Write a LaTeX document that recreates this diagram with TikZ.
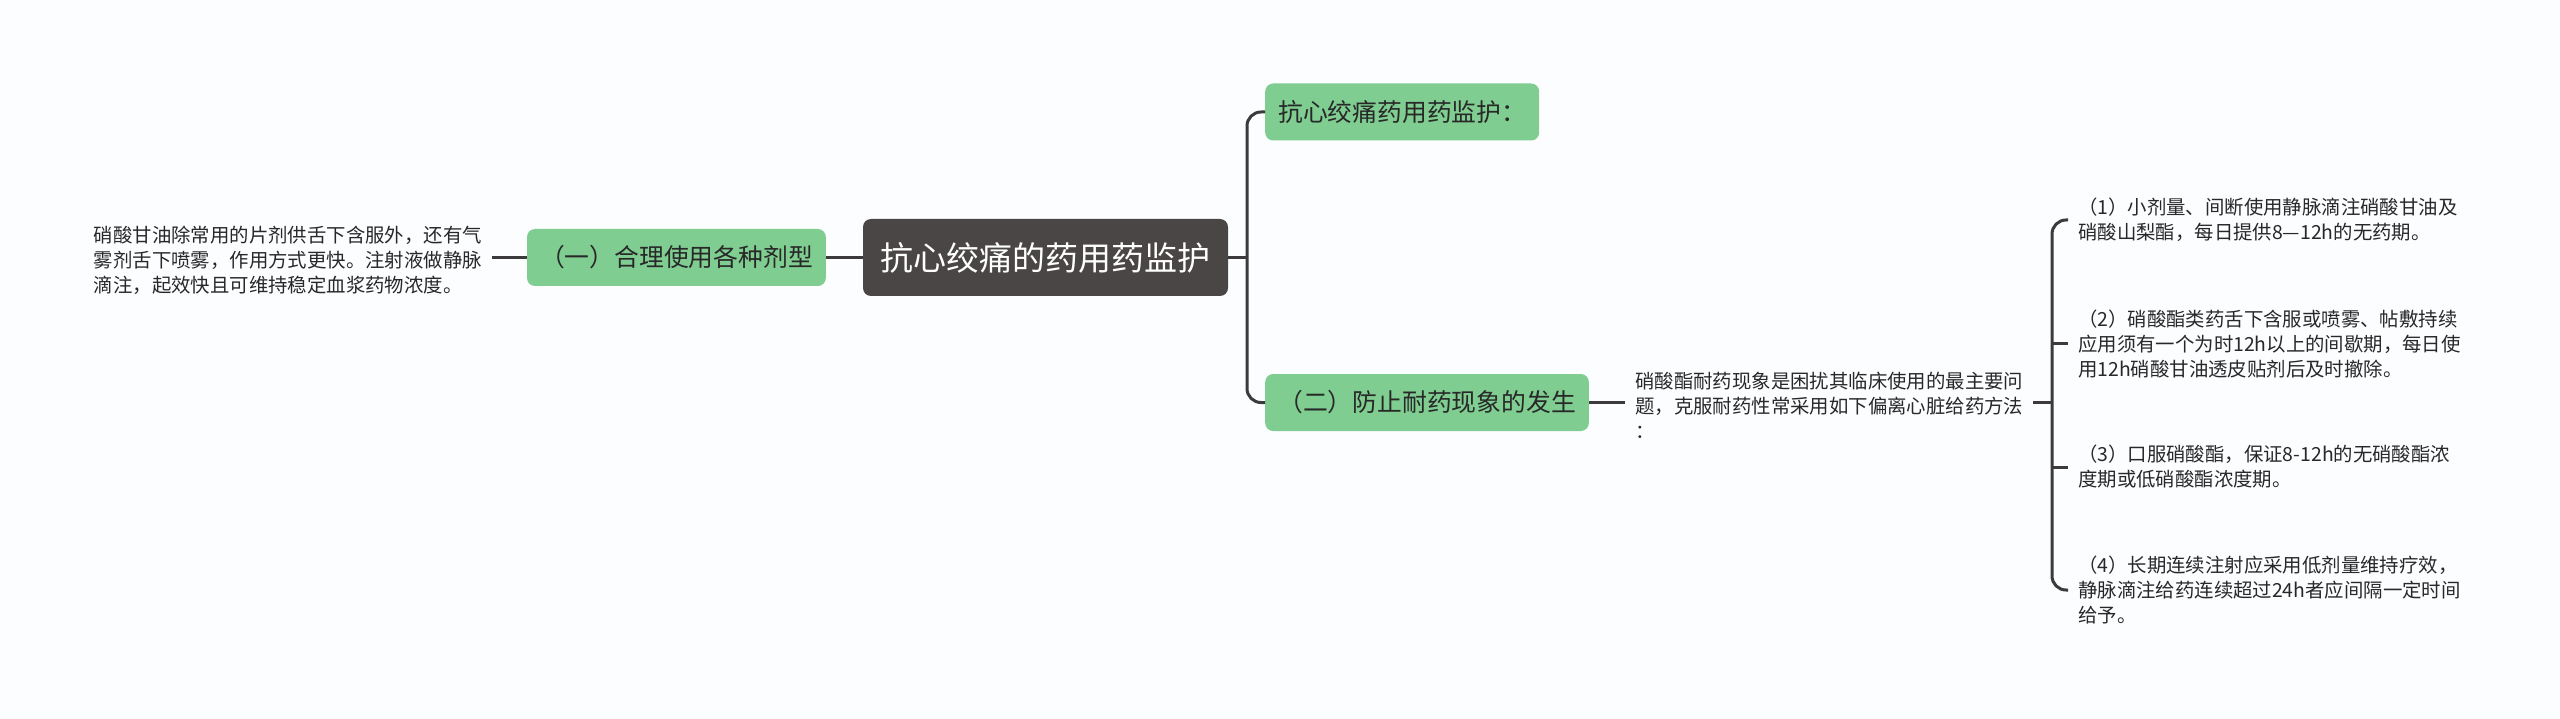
\documentclass[tikz,border=0pt]{standalone}
\usepackage{fontspec}
\setmainfont{Noto Sans CJK SC}
\definecolor{bgc}{RGB}{251,253,255}
\definecolor{greenc}{RGB}{127,205,145}
\definecolor{darkc}{RGB}{75,70,70}
\definecolor{linec}{RGB}{60,58,58}
\definecolor{textc}{RGB}{40,40,40}
\begin{document}
\begin{tikzpicture}[x=1pt,y=-1pt,
  conn/.style={draw=linec, line width=3pt},
  topic/.style={fill=greenc, rounded corners=8pt, text=textc, font=\fontsize{24.8}{30}\selectfont, inner xsep=13pt, inner ysep=0pt, minimum height=57pt},
  central/.style={fill=darkc, rounded corners=8pt, text=white, font=\fontsize{33}{40}\selectfont, inner xsep=17.5pt, inner ysep=0pt, minimum height=77pt},
  note/.style={text=textc, font=\fontsize{19.4}{25}\selectfont, align=left, inner xsep=10pt, inner ysep=0pt}]
\fill[bgc] (0,0) rectangle (2560,719);
\useasboundingbox (0,0) rectangle (2560,719);

\node[central] (root) at (1045.5,257.5) {抗心绞痛的药用药监护};
\node[topic, anchor=east] (t1) at (826,257.5) {（一）合理使用各种剂型};
\node[note, anchor=east] (n1) at (492,260) {硝酸甘油除常用的片剂供舌下含服外，还有气\\雾剂舌下喷雾，作用方式更快。注射液做静脉\\滴注，起效快且可维持稳定血浆药物浓度。};
\node[topic, anchor=west] (t2) at (1265,112) {抗心绞痛药用药监护：};
\node[topic, anchor=west] (t3) at (1265,402.5) {（二）防止耐药现象的发生};
\node[note, anchor=west] (n3) at (1625,405) {硝酸酯耐药现象是困扰其临床使用的最主要问\\题，克服耐药性常采用如下偏离心脏给药方法\\：};
\node[note, anchor=west] (i1) at (2068,220) {（1）小剂量、间断使用静脉滴注硝酸甘油及\\硝酸山梨酯，每日提供8—12h的无药期。};
\node[note, anchor=west] (i2) at (2068,344) {（2）硝酸酯类药舌下含服或喷雾、帖敷持续\\应用须有一个为时12h以上的间歇期，每日使\\用12h硝酸甘油透皮贴剂后及时撤除。};
\node[note, anchor=west] (i3) at (2068,467) {（3）口服硝酸酯，保证8-12h的无硝酸酯浓\\度期或低硝酸酯浓度期。};
\node[note, anchor=west] (i4) at (2068,590) {（4）长期连续注射应采用低剂量维持疗效，\\静脉滴注给药连续超过24h者应间隔一定时间\\给予。};

\coordinate (b1) at (1247,257.5);
\coordinate (b2) at (2052,402);

\draw[conn] (t1.west) -- (t1.west -| n1.east);
\draw[conn] (t1.east) -- (root.west);
\draw[conn] (root.east) -- (b1);
\draw[conn, rounded corners=14pt] (t2.west) -| (b1) |- (t3.west);
\draw[conn] (t3.east) -- (t3.east -| n3.west);
\draw[conn] (n3.east |- b2) -- (b2);
\draw[conn, rounded corners=14pt] (i1.west) -| (b2) |- (i4.west);
\draw[conn] (i2.west) -- (i2.west -| b2);
\draw[conn] (i3.west) -- (i3.west -| b2);
\end{tikzpicture}
\end{document}
